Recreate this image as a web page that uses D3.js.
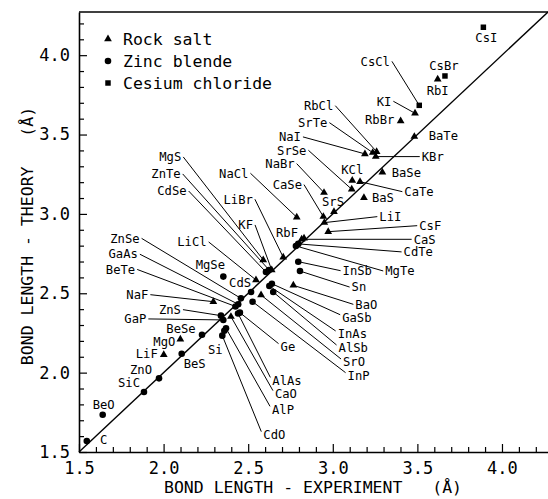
<!DOCTYPE html>
<html>
<head>
<meta charset="utf-8">
<script src="https://cdn.jsdelivr.net/npm/d3@7"></script>
<style>
body{margin:0;background:#fff}
svg text{font-family:"DejaVu Sans Mono",monospace;fill:#000}
</style>
</head>
<body>
<svg id="chart" width="548" height="499"></svg>
<script>
// compounds, structure (R = rock salt, Z = zinc blende, C = cesium chloride)
var compounds = ['C','BeO','SiC','ZnO','LiF','MgO','BeS','BeSe','ZnS','GaP','NaF','CaO','AlP','CdO','Si','Ge',
  'AlAs','ZnSe','GaAs','BeTe','InP','SrO','AlSb','InAs','GaSb','BaO','Sn','InSb','MgTe','CdTe','CaS','CsF',
  'LiI','RbF','NaCl','LiBr','KF','LiCl','MgSe','CdS','MgS','ZnTe','CdSe','CaSe','SrS','NaBr','SrSe','NaI',
  'SrTe','RbCl','KCl','BaS','CaTe','BaSe','KBr','BaTe','RbBr','KI','CsCl','RbI','CsBr','CsI'];
var structure = ['Z','Z','Z','Z','R','R','Z','Z','Z','Z','R','R','Z','Z','Z','Z',
  'Z','Z','Z','Z','Z','R','Z','Z','Z','R','Z','Z','Z','Z','R','R',
  'R','R','R','R','R','R','Z','Z','R','Z','Z','R','R','R','R','R',
  'R','R','R','R','R','R','R','R','R','R','C','R','C','C'];
// bond length, experiment (A)
var experiment = [1.546,1.640,1.884,1.973,2.001,2.099,2.107,2.227,2.339,2.353,2.294,2.398,2.369,2.347,2.359,2.451,
  2.440,2.457,2.441,2.425,2.526,2.576,2.648,2.625,2.640,2.767,2.806,2.796,2.782,2.796,2.816,2.973,
  2.950,2.830,2.787,2.707,2.639,2.546,2.353,2.517,2.589,2.623,2.605,2.944,3.007,2.948,3.112,3.190,
  3.236,3.259,3.115,3.184,3.161,3.293,3.254,3.482,3.401,3.486,3.511,3.620,3.663,3.890];
// bond length, theory (A)
var theory = [1.569,1.735,1.878,1.964,2.113,2.210,2.119,2.239,2.359,2.332,2.447,2.353,2.279,2.233,2.264,2.378,
  2.373,2.468,2.431,2.417,2.447,2.489,2.508,2.546,2.560,2.550,2.640,2.699,2.798,2.811,2.840,2.888,
  2.945,2.847,2.979,2.727,2.647,2.584,2.605,2.508,2.710,2.647,2.634,2.983,3.014,3.134,3.155,3.378,
  3.386,3.392,3.210,3.102,3.203,3.262,3.361,3.487,3.586,3.634,3.684,3.848,3.869,4.176];

var tickLabels = ['1.5','2.0','2.5','3.0','3.5','4.0'];
var legendNames = ['Rock salt','Zinc blende','Cesium chloride'];
var legendTypes = ['R','Z','C'];

// label placement: offset from the point in px, and whether a leader line is drawn
var labelLayout = [[17,-1,0],[1,-10,0],[-15,-9,0],[-18,-9,0],[-17,-1,0],[-16,2,0],[13,10,0],[-21,-6,0],[-51,-6,1],[-88,-1,1],
  [-76,-7,1],[55,77,1],[57,81,1],[52,99,1],[-9,19,0],[48,34,1],[49,67,1],[-116,-60,1],[-115,-50,1],[-115,-37,1],
  [106,74,1],[93,67,1],[80,56,1],[83,48,1],[85,34,1],[73,19,1],[59,16,1],[59,9,1],[104,25,1],[120,8,1],
  [123,0,1],[102,-6,1],[66,-6,1],[-17,-5,0],[-63,-44,1],[-45,-58,1],[-26,-45,1],[-64,-38,1],[-13,-12,0],[-11,-9,0],
  [-93,-103,1],[-103,-96,1],[-94,-81,1],[-36,-32,1],[-1,-10,0],[-44,-29,1],[-60,-39,1],[-75,-17,1],[-60,-30,1],[-58,-46,1],
  [0,-11,0],[19,0,0],[59,10,1],[24,0,0],[57,0,1],[29,-1,0],[-21,-1,0],[-31,-12,1],[-44,-44,1],[0,11,0],
  [-1,-10,0],[3,10,0]];

var data = compounds.map(function(c,i){
  return {name:c, type:structure[i], exp:experiment[i], th:theory[i],
    dx:labelLayout[i][0], dy:labelLayout[i][1], leader:labelLayout[i][2]};
});

var svg = d3.select('#chart');
var x = d3.scaleLinear().domain([1.5,4.272]).range([79,548]);
var y = d3.scaleLinear().domain([1.5,4.272]).range([452,12]);

var ticks = d3.range(15,43).map(function(d){return d/10;});
function isMajor(d){ return Math.abs(d*2-Math.round(d*2))<1e-6; }
function fmt(d){ return isMajor(d) ? tickLabels[Math.round((d-1.5)*2)] : ''; }

var xAxis = svg.append('g').attr('transform','translate(0,452)')
  .call(d3.axisBottom(x).tickValues(ticks).tickFormat(fmt).tickSizeInner(-5).tickSizeOuter(0).tickPadding(10));
var yAxis = svg.append('g').attr('transform','translate(79,0)')
  .call(d3.axisLeft(y).tickValues(ticks.slice(0,28)).tickFormat(fmt).tickSizeInner(-5).tickSizeOuter(0).tickPadding(9));

[xAxis,yAxis].forEach(function(a){
  a.select('.domain').attr('stroke','#000').attr('stroke-width',1.6);
  a.selectAll('.tick line').attr('stroke','#000').attr('stroke-width',1.2);
  a.selectAll('.tick text').style('font-size','17px').style('font-family','"DejaVu Sans Mono",monospace');
});
xAxis.selectAll('.tick line').filter(isMajor).attr('y2',-8);
yAxis.selectAll('.tick line').filter(isMajor).attr('x2',8);

// top frame
svg.append('line').attr('x1',x(1.5)).attr('x2',x(4.272)).attr('y1',y(4.272)).attr('y2',y(4.272))
  .attr('stroke','#000').attr('stroke-width',1.6);

// line of perfect agreement
svg.append('line').attr('x1',x(1.5)).attr('y1',y(1.5)).attr('x2',x(4.272)).attr('y2',y(4.272))
  .attr('stroke','#000').attr('stroke-width',1.4);

// axis titles
svg.append('text').attr('x',164).attr('y',493).style('font-size','16.5px').style('white-space','pre')
  .text('BOND LENGTH - EXPERIMENT   (Å)');
svg.append('text').attr('transform','translate(33,236) rotate(-90)').attr('text-anchor','middle')
  .style('font-size','16.5px').style('white-space','pre')
  .text('BOND LENGTH - THEORY   (Å)');

var symType = {R:d3.symbolTriangle, Z:d3.symbolCircle, C:d3.symbolSquare};
var symSize = {R:26, Z:34, C:30};
function sym(t){ return d3.symbol().type(symType[t]).size(symSize[t])(); }

// labels (measured first so leaders can start at the text edge)
var labels = svg.append('g').selectAll('text').data(data).enter().append('text')
  .attr('x',function(d){return x(d.exp)+d.dx;})
  .attr('y',function(d){return y(d.th)+d.dy;})
  .attr('dy','0.35em')
  .attr('text-anchor','middle')
  .style('font-size','12.2px')
  .text(function(d){return d.name;});

labels.each(function(d){ d.w = this.getComputedTextLength(); });

svg.insert('g','g').selectAll('line').data(data.filter(function(d){return d.leader;})).enter().append('line')
  .attr('x1',function(d){ return x(d.exp)+d.dx + (d.dx<0 ? d.w/2+2 : -d.w/2-2); })
  .attr('y1',function(d){ return y(d.th)+d.dy + (d.dy>30 ? -3 : 0); })
  .attr('x2',function(d){return x(d.exp);})
  .attr('y2',function(d){return y(d.th);})
  .attr('stroke','#000').attr('stroke-width',1);

svg.append('g').selectAll('path').data(data).enter().append('path')
  .attr('d',function(d){return sym(d.type);})
  .attr('transform',function(d){return 'translate('+x(d.exp)+','+y(d.th)+')';})
  .attr('fill','#000');

// legend
var leg = svg.append('g').selectAll('g').data(legendNames).enter().append('g')
  .attr('transform',function(d,i){return 'translate(108,'+(39+i*22)+')';});
leg.append('path').attr('d',function(d,i){return sym(legendTypes[i]);}).attr('fill','#000');
leg.append('text').attr('x',15).attr('dy','0.35em').style('font-size','16.5px').text(function(d){return d;});
</script>
</body>
</html>
